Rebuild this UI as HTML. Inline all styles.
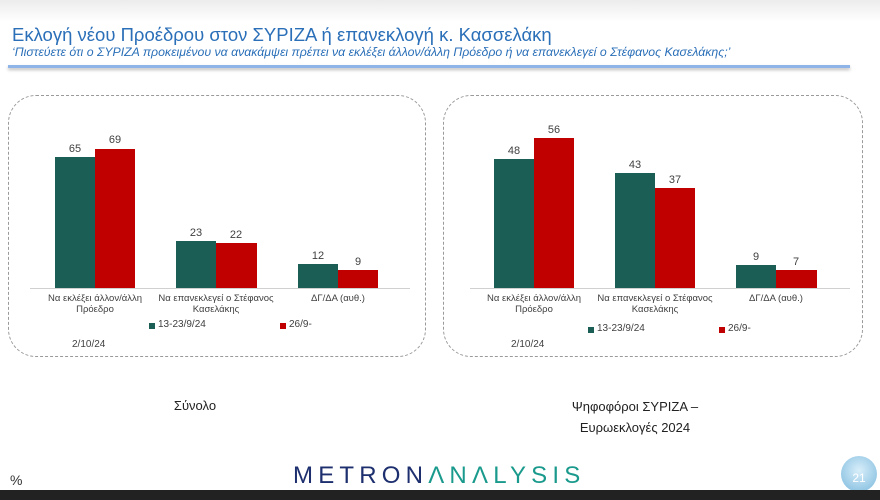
<!DOCTYPE html>
<html><head><meta charset="utf-8"><style>
body{margin:0;width:880px;height:500px;overflow:hidden;background:#fff;font-family:"Liberation Sans",sans-serif;position:relative}
.a{position:absolute}
.t{font-size:9.5px;color:#404040;text-align:center;white-space:nowrap}
.v{font-size:11px;color:#404040;text-align:center;width:40px}
.g{background:#1b5e56}.r{background:#c00000}
.box{position:absolute;border:1.5px dashed #9a9a9a;border-radius:28px}
</style></head><body>
<div class="a" style="left:0;top:0;width:880px;height:22px;background:linear-gradient(#ececec,#fff)"></div>
<div class="a" style="left:12px;top:24px;font-size:18.5px;color:#2a6fb8">Εκλογή νέου Προέδρου στον ΣΥΡΙΖΑ ή επανεκλογή κ. Κασσελάκη</div>
<div class="a" style="left:12px;top:45px;font-size:12.3px;color:#2a6fb8;font-style:italic">‘Πιστεύετε ότι ο ΣΥΡΙΖΑ προκειμένου να ανακάμψει πρέπει να εκλέξει άλλον/άλλη Πρόεδρο ή να επανεκλεγεί ο Στέφανος Κασελάκης;’</div>
<div class="a" style="left:8px;top:65px;width:842px;height:3px;background:#8fb4e8;box-shadow:0 2px 3px #bbb"></div>

<div class="box" style="left:8px;top:95px;width:416px;height:260px"></div>
<div class="box" style="left:443px;top:95px;width:418px;height:260px"></div>

<div class="a" style="left:30px;top:288px;width:380px;height:1px;background:#d0d0d0"></div>
<div class="a g" style="left:55px;top:157px;width:40px;height:131px"></div>
<div class="a r" style="left:95px;top:149px;width:40px;height:139px"></div>
<div class="a g" style="left:176px;top:241px;width:40px;height:47px"></div>
<div class="a r" style="left:216px;top:243px;width:41px;height:45px"></div>
<div class="a g" style="left:298px;top:264px;width:40px;height:24px"></div>
<div class="a r" style="left:338px;top:270px;width:40px;height:18px"></div>
<div class="a v" style="left:55px;top:143px">65</div><div class="a v" style="left:95px;top:134px">69</div>
<div class="a v" style="left:176px;top:227px">23</div><div class="a v" style="left:216px;top:229px">22</div>
<div class="a v" style="left:298px;top:250px">12</div><div class="a v" style="left:338px;top:256px">9</div>
<div class="a t" style="left:35px;top:293px;width:120px">Να εκλέξει άλλον/άλλη<br>Πρόεδρο</div>
<div class="a t" style="left:156px;top:293px;width:120px">Να επανεκλεγεί ο Στέφανος<br>Κασελάκης</div>
<div class="a t" style="left:278px;top:293px;width:120px">ΔΓ/ΔΑ (αυθ.)</div>
<div class="a g" style="left:149px;top:323px;width:6px;height:6px"></div>
<div class="a" style="left:158px;top:319px;font-size:10px;color:#404040">13-23/9/24</div>
<div class="a r" style="left:280px;top:323px;width:6px;height:6px"></div>
<div class="a" style="left:289px;top:319px;font-size:10px;color:#404040">26/9-</div>
<div class="a" style="left:72px;top:339px;font-size:10px;color:#404040">2/10/24</div>

<div class="a" style="left:470px;top:288px;width:380px;height:1px;background:#d0d0d0"></div>
<div class="a g" style="left:494px;top:159px;width:40px;height:129px"></div>
<div class="a r" style="left:534px;top:138px;width:40px;height:150px"></div>
<div class="a g" style="left:615px;top:173px;width:40px;height:115px"></div>
<div class="a r" style="left:655px;top:188px;width:40px;height:100px"></div>
<div class="a g" style="left:736px;top:265px;width:40px;height:23px"></div>
<div class="a r" style="left:776px;top:270px;width:41px;height:18px"></div>
<div class="a v" style="left:494px;top:145px">48</div><div class="a v" style="left:534px;top:124px">56</div>
<div class="a v" style="left:615px;top:159px">43</div><div class="a v" style="left:655px;top:174px">37</div>
<div class="a v" style="left:736px;top:251px">9</div><div class="a v" style="left:776px;top:256px">7</div>
<div class="a t" style="left:474px;top:293px;width:120px">Να εκλέξει άλλον/άλλη<br>Πρόεδρο</div>
<div class="a t" style="left:595px;top:293px;width:120px">Να επανεκλεγεί ο Στέφανος<br>Κασελάκης</div>
<div class="a t" style="left:716px;top:293px;width:120px">ΔΓ/ΔΑ (αυθ.)</div>
<div class="a g" style="left:588px;top:327px;width:6px;height:6px"></div>
<div class="a" style="left:597px;top:323px;font-size:10px;color:#404040">13-23/9/24</div>
<div class="a r" style="left:719px;top:327px;width:6px;height:6px"></div>
<div class="a" style="left:728px;top:323px;font-size:10px;color:#404040">26/9-</div>
<div class="a" style="left:511px;top:339px;font-size:10px;color:#404040">2/10/24</div>

<div class="a" style="left:150px;top:398px;width:90px;text-align:center;font-size:13px;color:#222">Σύνολο</div>
<div class="a" style="left:560px;top:396px;width:150px;text-align:center;font-size:13px;color:#222;line-height:21px">Ψηφοφόροι ΣΥΡΙΖΑ –<br>Ευρωεκλογές 2024</div>

<div class="a" style="left:10px;top:472px;font-size:14px;color:#333">%</div>
<div class="a" style="left:293px;top:462px;font-size:24px;letter-spacing:5.2px;color:#1d2f6e">METRON<span style="color:#1a9a8c">ΛNΛLYSIS</span></div>
<div class="a" style="left:841px;top:456px;width:36px;height:36px;border-radius:50%;background:radial-gradient(circle at 50% 40%,#d8eefa,#7ab8dc);color:#fff;font-size:12px;text-align:center;line-height:44px">21</div>
<div class="a" style="left:0;top:490px;width:880px;height:10px;background:#222"></div>
</body></html>
